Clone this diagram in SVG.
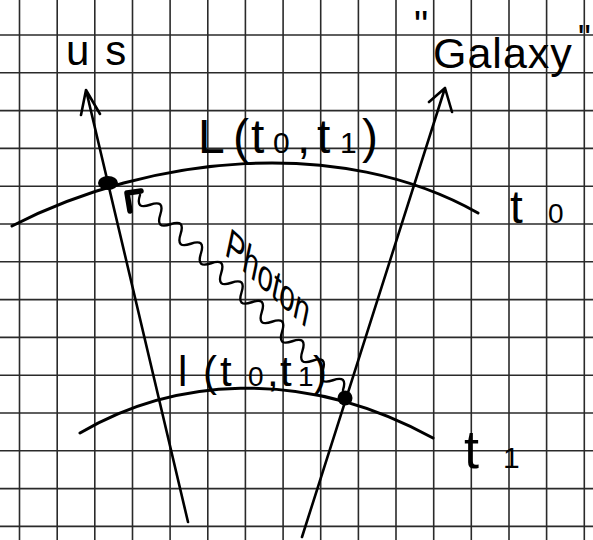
<svg xmlns="http://www.w3.org/2000/svg" width="593" height="540" viewBox="0 0 593 540">
<style>
.grid line{stroke:#2a2a2a;stroke-width:1.6}
.ink{fill:none;stroke:#000;stroke-linecap:round;stroke-linejoin:round}
.hand{font-family:"Liberation Sans","DejaVu Sans",sans-serif;fill:#000}
</style>
<rect width="593" height="540" fill="#fff"/>
<g id="grid" class="grid">
<line x1="19.5" y1="0" x2="19.5" y2="540"/><line x1="57.2" y1="0" x2="57.2" y2="540"/><line x1="94.8" y1="0" x2="94.8" y2="540"/><line x1="132.5" y1="0" x2="132.5" y2="540"/><line x1="170.1" y1="0" x2="170.1" y2="540"/><line x1="207.8" y1="0" x2="207.8" y2="540"/><line x1="245.4" y1="0" x2="245.4" y2="540"/><line x1="283.1" y1="0" x2="283.1" y2="540"/><line x1="320.7" y1="0" x2="320.7" y2="540"/><line x1="358.4" y1="0" x2="358.4" y2="540"/><line x1="396" y1="0" x2="396" y2="540"/><line x1="433.7" y1="0" x2="433.7" y2="540"/><line x1="471.3" y1="0" x2="471.3" y2="540"/><line x1="509" y1="0" x2="509" y2="540"/><line x1="546.6" y1="0" x2="546.6" y2="540"/><line x1="584.3" y1="0" x2="584.3" y2="540"/>
<line x1="0" y1="35" x2="593" y2="35"/><line x1="0" y1="72.8" x2="593" y2="72.8"/><line x1="0" y1="110.6" x2="593" y2="110.6"/><line x1="0" y1="148.4" x2="593" y2="148.4"/><line x1="0" y1="186.2" x2="593" y2="186.2"/><line x1="0" y1="224" x2="593" y2="224"/><line x1="0" y1="261.8" x2="593" y2="261.8"/><line x1="0" y1="299.6" x2="593" y2="299.6"/><line x1="0" y1="337.4" x2="593" y2="337.4"/><line x1="0" y1="375.2" x2="593" y2="375.2"/><line x1="0" y1="413" x2="593" y2="413"/><line x1="0" y1="450.8" x2="593" y2="450.8"/><line x1="0" y1="488.6" x2="593" y2="488.6"/><line x1="0" y1="526.4" x2="593" y2="526.4"/>
</g>
<g id="connectors">
<path id="worldline-us" class="ink" stroke-width="2.6" d="M86,90 L188,522 M81,115 L86,90 L100,114"/>
<path id="worldline-galaxy" class="ink" stroke-width="2.6" d="M445,88 L302,537 M429,102 L445,88 L452,112"/>
<path id="slice-t0" class="ink" stroke-width="3" d="M12,226 C150,155 340,135 478,213"/>
<path id="slice-t1" class="ink" stroke-width="3" d="M80,433 C170,380 300,365 433,438"/>
<path id="photon" class="ink" stroke-width="2.4" d="M140,195 q-4.9,15.2 10.15,9.75 t10.15,9.75 t10.15,9.75 t10.15,9.75 t10.15,9.75 t10.15,9.75 t10.15,9.75 t10.15,9.75 t10.15,9.75 t10.15,9.75 t10.15,9.75 t10.15,9.75 t10.15,9.75 t10.15,9.75 t10.15,9.75 t10.15,9.75 t10.15,9.75 t10.15,9.75 t10.15,9.75 t10.15,9.75"/>
<path id="photon-head" class="ink" stroke-width="5.5" d="M130,211 L127,193 L141,191"/>
</g>
<g id="node-us-event"><ellipse cx="108" cy="183" rx="10" ry="7" fill="#000"/></g>
<g id="node-galaxy-event"><circle cx="345" cy="398" r="7.5" fill="#000"/></g>
<g id="label-us"><text class="hand" x="66" y="65" font-size="42" letter-spacing="16">us</text></g>
<g id="label-galaxy"><text class="hand" x="414" y="39" font-size="40">"<tspan x="433" y="68" font-size="43" letter-spacing="1">Galaxy</tspan><tspan x="578" y="51" font-size="36">"</tspan></text></g>
<g id="label-L"><text class="hand" y="153" font-size="48"><tspan x="198">L</tspan><tspan x="233">(</tspan><tspan x="251">t</tspan><tspan x="273" font-size="30">0</tspan><tspan x="297">,</tspan><tspan x="317">t</tspan><tspan x="340" font-size="30">1</tspan><tspan x="362">)</tspan></text></g>
<g id="label-photon"><text class="hand" font-size="35" transform="translate(224,254) rotate(42) skewX(30)">Photon</text></g>
<g id="label-l"><text class="hand" y="386" font-size="42"><tspan x="178">l</tspan><tspan x="203">(</tspan><tspan x="220">t</tspan><tspan x="248" font-size="28">0</tspan><tspan x="267">,</tspan><tspan x="280">t</tspan><tspan x="298" font-size="28">1</tspan><tspan x="313">)</tspan></text></g>
<g id="label-t0"><text class="hand" y="223" font-size="46"><tspan x="510">t</tspan><tspan x="548" font-size="28">0</tspan></text></g>
<g id="label-t1"><text class="hand" y="468" font-size="54"><tspan x="464">t</tspan><tspan x="503" font-size="30">1</tspan></text></g>
</svg>
